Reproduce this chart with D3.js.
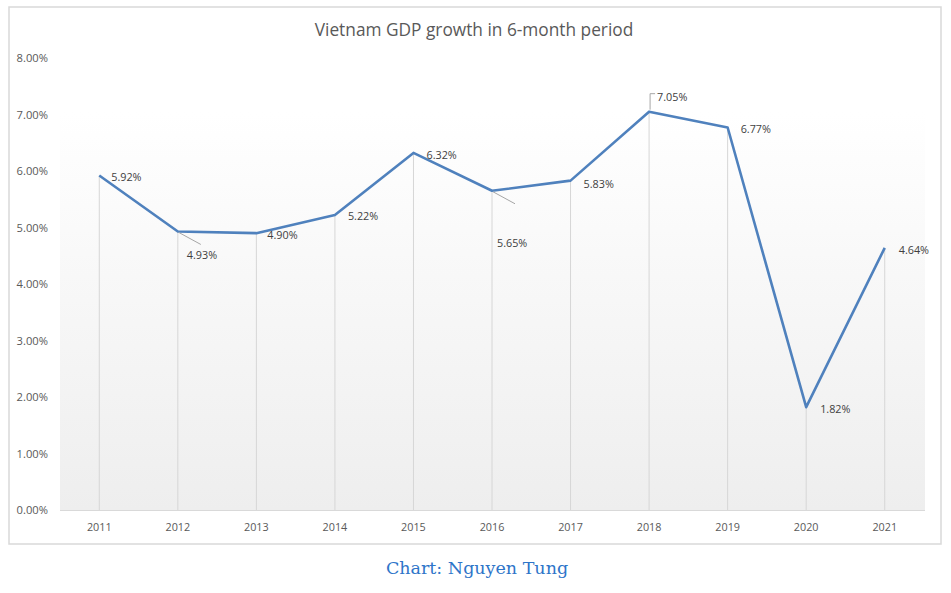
<!DOCTYPE html>
<html><head><meta charset="utf-8">
<script src="https://cdn.jsdelivr.net/npm/d3@7"></script>
<style>body{margin:0;background:#fff}svg{display:block}</style>
</head><body>
<svg id="c" width="951" height="593"></svg>
<script>
const years = ["2011","2012","2013","2014","2015","2016","2017","2018","2019","2020","2021"];
const growth = [5.92, 4.93, 4.90, 5.22, 6.32, 5.65, 5.83, 7.05, 6.77, 1.82, 4.64];
const yTicks = [0,1,2,3,4,5,6,7,8];
const title = "Vietnam GDP growth in 6-month period";
const caption = "Chart: Nguyen Tung";
// label offsets (layout, relative to each point)
const labelDx = [12, 9, 11, 13, 13, 5, 13, 8, 13, 14, 14];
const labelDy = [5, 28, 6, 5, 6, 56, 7, -11, 6, 6, 6];

const svg = d3.select("#c");
const L = 60, R = 924, T = 58, B = 510;
const x = d3.scaleBand().domain(years).range([L, R]);
const y = d3.scaleLinear().domain([0, 8]).range([B, T]);
const cx = d => x(d) + x.bandwidth()/2;
const font = "'Open Sans', sans-serif";

const defs = svg.append("defs");
const g = defs.append("linearGradient").attr("id","bg").attr("x1",0).attr("y1",0).attr("x2",0).attr("y2",1);
g.append("stop").attr("offset","0%").attr("stop-color","#ffffff");
g.append("stop").attr("offset","12%").attr("stop-color","#ffffff");
g.append("stop").attr("offset","100%").attr("stop-color","#eeeeee");

// frame
svg.append("rect").attr("x",9).attr("y",7).attr("width",932).attr("height",537)
  .attr("fill","#fff").attr("stroke","#d9d9d9").attr("stroke-width",1.5);

// plot background
svg.append("rect").attr("x",L).attr("y",T).attr("width",R-L+1).attr("height",B-T).attr("fill","url(#bg)");

// title
svg.append("text").attr("x",474).attr("y",36).attr("text-anchor","middle")
  .attr("font-family",font).attr("font-size",17.3).attr("fill","#595959").text(title);

// y tick labels
svg.append("g").selectAll("text").data(yTicks).join("text")
  .attr("x",48).attr("y",d=>y(d)+4).attr("text-anchor","end")
  .attr("font-family",font).attr("font-size",11.2).attr("fill","#595959")
  .text(d=>d3.format(".2f")(d)+"%");

// x axis labels
svg.append("g").selectAll("text").data(years).join("text")
  .attr("x",d=>cx(d)).attr("y",531).attr("text-anchor","middle")
  .attr("font-family",font).attr("font-size",10.8).attr("fill","#595959").text(d=>d);

// baseline
svg.append("line").attr("x1",L).attr("x2",R+1).attr("y1",B+0.5).attr("y2",B+0.5)
  .attr("stroke","#d9d9d9").attr("stroke-width",1.2);

// drop lines
svg.append("g").selectAll("line").data(years).join("line")
  .attr("x1",d=>cx(d)).attr("x2",d=>cx(d))
  .attr("y1",(d,i)=>y(growth[i])).attr("y2",B)
  .attr("stroke","#d6d6d6").attr("stroke-width",1);

// line
svg.append("path").datum(growth)
  .attr("d", d3.line().x((d,i)=>cx(years[i])).y(d=>y(d)))
  .attr("fill","none").attr("stroke","#4f81bd").attr("stroke-width",2.6).attr("stroke-linejoin","round");

// leader lines
const leader = i => {
  const px = cx(years[i]), py = y(growth[i]);
  if (i === 7) return `M${px+1},${py-2}V${py-18}H${px+6}`;
  return `M${px+1},${py+1}L${px+23},${py+13}`;
};
svg.append("g").selectAll("path").data([1,5,7]).join("path")
  .attr("d", leader).attr("fill","none").attr("stroke","#a6a6a6").attr("stroke-width",1);

// data labels
svg.append("g").selectAll("text").data(growth).join("text")
  .attr("x",(d,i)=>cx(years[i])+labelDx[i]).attr("y",(d,i)=>y(d)+labelDy[i])
  .attr("font-family",font).attr("font-size",10.8).attr("fill","#404040")
  .text(d=>d3.format(".2f")(d)+"%");

// caption
svg.append("text").attr("x",477).attr("y",574).attr("text-anchor","middle")
  .attr("font-family","'DejaVu Serif', serif").attr("font-size",17.5).attr("fill","#2e75c9").text(caption);
</script>
</body></html>
